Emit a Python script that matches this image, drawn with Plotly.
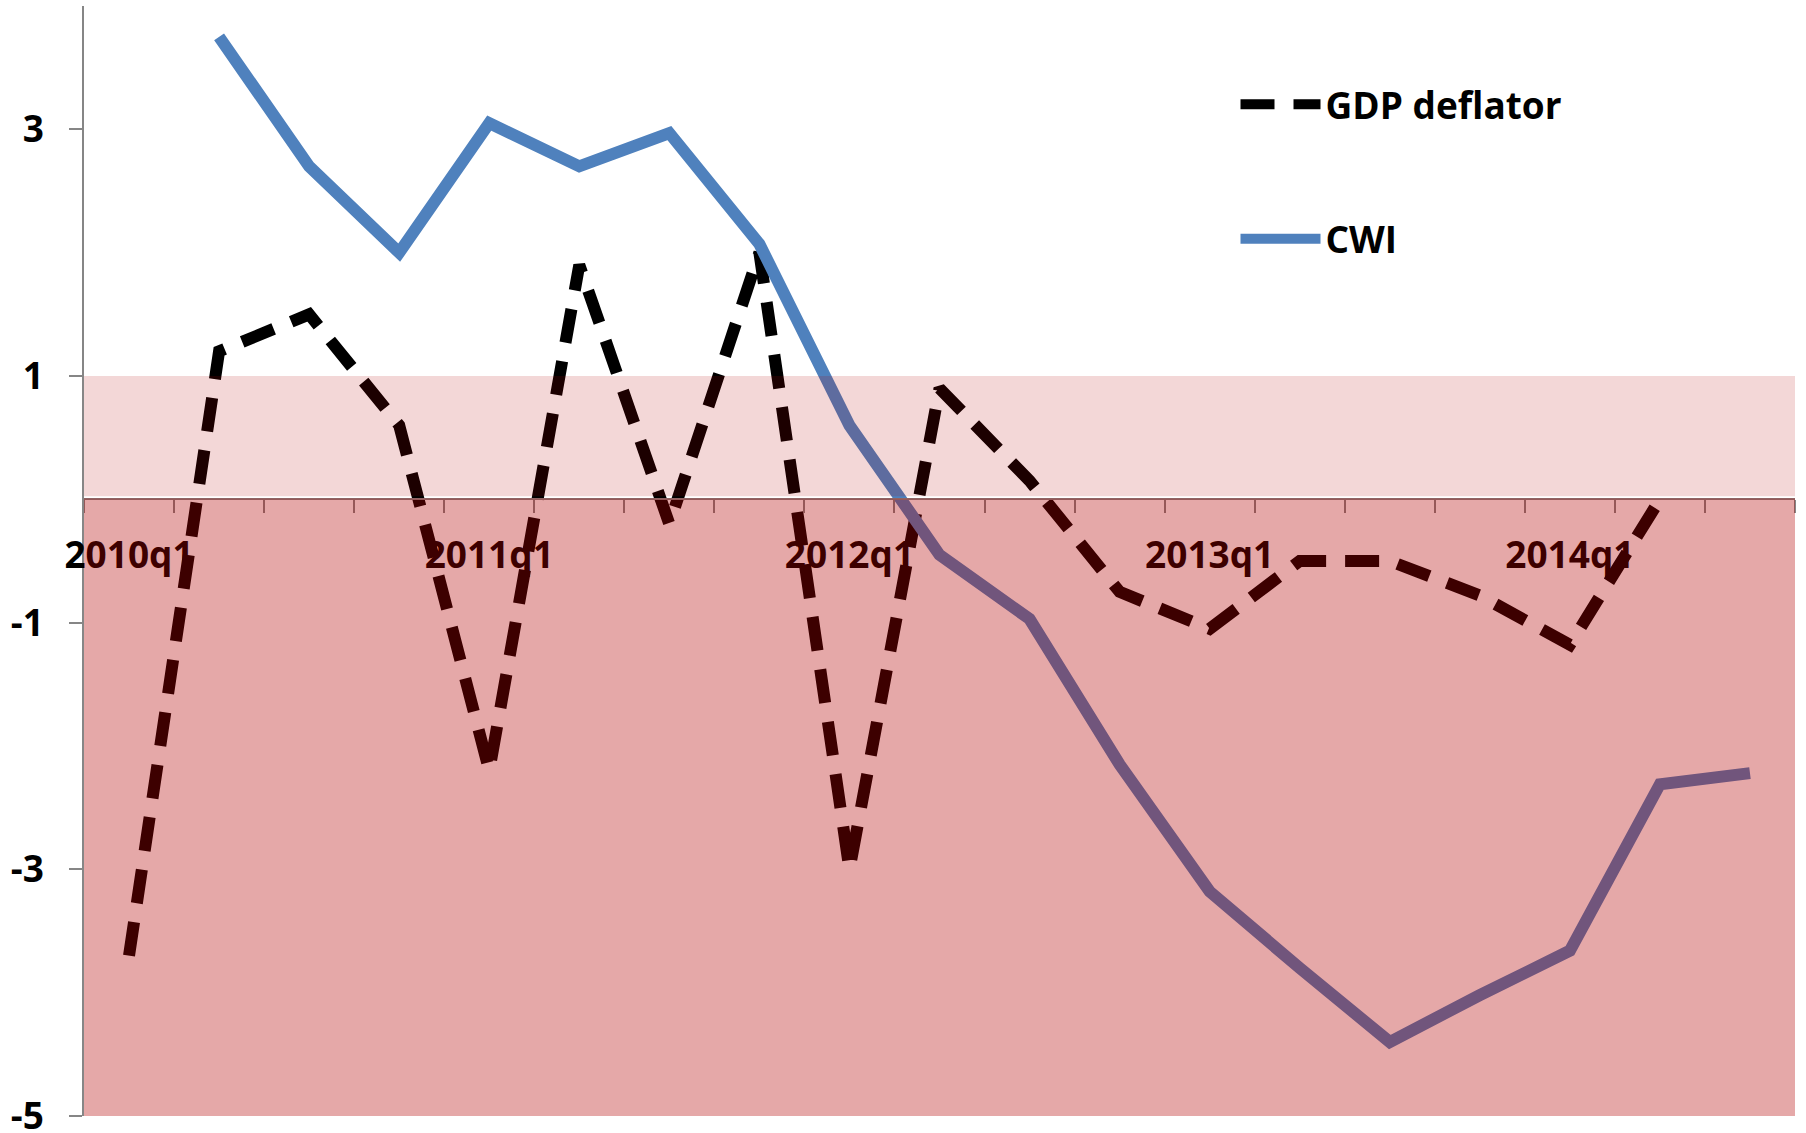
import plotly.graph_objects as go

# ---- data ----
quarters = ["2010q1", "2010q2", "2010q3", "2010q4",
            "2011q1", "2011q2", "2011q3", "2011q4",
            "2012q1", "2012q2", "2012q3", "2012q4",
            "2013q1", "2013q2", "2013q3", "2013q4",
            "2014q1", "2014q2", "2014q3"]
label_quarters = ["2010q1", "2011q1", "2012q1", "2013q1", "2014q1"]

gdp_deflator = [-3.70, 1.20, 1.50, 0.60, -2.20, 1.90, -0.20, 2.00, -3.00, 0.90,
                0.15, -0.75, -1.05, -0.50, -0.50, -0.78, -1.18, 0.00, None]
cwi = [None, 3.75, 2.70, 2.00, 3.05, 2.70, 2.97, 2.07, 0.60, -0.45,
       -0.97, -2.15, -3.18, -3.80, -4.40, -4.02, -3.66, -2.31, -2.22]

y_ticks = [-5, -3, -1, 1, 3]
y_tick_labels = ["-5", "-3", "-1", "1", "3"]
y_range = [-5, 4]
band_light = [0, 1]    # light shaded band
band_dark = [-5, 0]    # dark shaded band

# ---- styles ----
AXIS_GRAY = "#868686"
FONT = dict(family="Open Sans", size=37, color="black", weight="bold")

x = list(range(len(quarters)))

fig = go.Figure()
fig.add_trace(go.Scatter(
    x=x, y=gdp_deflator, name="GDP deflator", mode="lines",
    line=dict(color="black", width=12, dash="34px,19px"),
    legend="legend", hoverinfo="skip"))
fig.add_trace(go.Scatter(
    x=x, y=cwi, name="CWI", mode="lines",
    line=dict(color="#4F81BD", width=12),
    legend="legend2", hoverinfo="skip"))

# translucent overlays drawn above lines (as in the original)
fig.add_shape(type="rect", xref="paper", yref="y", x0=0, x1=1,
              y0=band_light[0] + 0.024, y1=band_light[1],
              fillcolor="rgba(180,0,0,0.155)", line=dict(width=0), layer="above")
fig.add_shape(type="rect", xref="paper", yref="y", x0=0, x1=1,
              y0=band_dark[0], y1=band_dark[1] + 0.008,
              fillcolor="rgba(180,0,0,0.34)", line=dict(width=0), layer="above")

zero_pos = (0 - y_range[0]) / (y_range[1] - y_range[0])

fig.update_layout(
    width=1806, height=1133,
    margin=dict(l=84, r=11, t=6, b=17, pad=0),
    paper_bgcolor="white", plot_bgcolor="white",
    showlegend=True,
    xaxis=dict(
        range=[-0.5, len(quarters) - 0.5], anchor="free", position=zero_pos,
        automargin=False, ticklabeloverflow="allow",
        showline=True, linecolor=AXIS_GRAY, linewidth=1.5,
        showgrid=False, zeroline=False,
        tickmode="array",
        tickvals=[quarters.index(q) for q in label_quarters],
        ticktext=label_quarters,
        ticks="", tickfont=FONT, ticklabelstandoff=24,
        minor=dict(ticks="outside", tickmode="array",
                   tickvals=[i - 0.5 for i in range(len(quarters) + 1)],
                   ticklen=13, tickwidth=1.5, tickcolor=AXIS_GRAY, showgrid=False),
    ),
    yaxis=dict(
        range=y_range, tickmode="array", tickvals=y_ticks, ticktext=y_tick_labels,
        automargin=False, ticklabeloverflow="allow",
        showline=True, linecolor=AXIS_GRAY, linewidth=1.5,
        showgrid=False, zeroline=False,
        ticks="outside", ticklen=13, tickwidth=1.5, tickcolor=AXIS_GRAY,
        tickfont=FONT, ticklabelstandoff=18,
    ),
    legend=dict(x=0.673, y=0.911, xanchor="left", yanchor="middle", itemwidth=80,
                font=FONT, bgcolor="rgba(0,0,0,0)"),
    legend2=dict(x=0.673, y=0.79, xanchor="left", yanchor="middle", itemwidth=80,
                 font=FONT, bgcolor="rgba(0,0,0,0)"),
)

fig.write_html("out.html", config={"displayModeBar": False},
               post_script="document.body.style.margin='0';")
